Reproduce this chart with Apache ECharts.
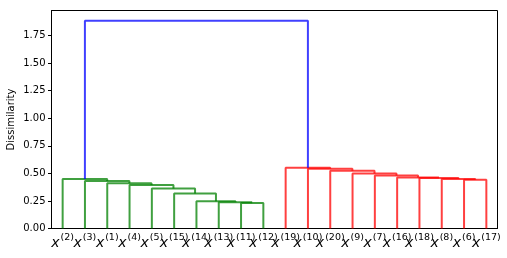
<!DOCTYPE html>
<html>
<head>
<meta charset="utf-8">
<script src="https://cdn.jsdelivr.net/npm/echarts@6/dist/echarts.min.js"></script>
<style>html,body{margin:0;padding:0;background:#fff}#c{width:507px;height:258px}</style>
</head>
<body>
<div id="c"></div>
<script>
// leaf labels in display order (superscript index of x)
const leafLabels = ['2','3','1','4','5','15','14','13','11','12','19','10','20','9','7','16','18','8','6','17'];
// linkage: leaves are 0..19 (display order), merge i creates cluster 20+i
const mergeLeft  = [8, 7, 6, 5, 4, 3, 2, 1, 0, 18, 17, 16, 15, 14, 13, 12, 11, 10, 28];
const mergeRight = [9, 20, 21, 22, 23, 24, 25, 26, 27, 19, 29, 30, 31, 32, 33, 34, 35, 36, 37];
const mergeHeight = [0.232, 0.238, 0.248, 0.318, 0.364, 0.394, 0.41, 0.43, 0.448,
                     0.442, 0.45, 0.458, 0.462, 0.48, 0.50, 0.525, 0.542, 0.551, 1.884];
const yTicks = [0, 0.25, 0.5, 0.75, 1.0, 1.25, 1.5, 1.75];
const clusterColors = ['#008000', '#ff0000'];
const aboveColor = '#0000ff';

const nLeaf = leafLabels.length;
const pos = [], hgt = [];
for (let i = 0; i < nLeaf; i++) { pos.push(5 + 10 * i); hgt.push(0); }
for (let i = 0; i < mergeHeight.length; i++) {
  const a = mergeLeft[i], b = mergeRight[i];
  pos.push((pos[a] + pos[b]) / 2);
  hgt.push(mergeHeight[i]);
}
const threshold = 0.7 * Math.max(...mergeHeight);
const linkColor = new Array(mergeHeight.length);
let colorIdx = 0;
function colorize(node, color) {
  if (node < nLeaf) return;
  const i = node - nLeaf;
  let c = color;
  if (mergeHeight[i] >= threshold) c = aboveColor;
  else if (!color) { c = clusterColors[colorIdx++ % clusterColors.length]; }
  linkColor[i] = c;
  const pass = (c === aboveColor) ? null : c;
  colorize(mergeLeft[i], pass);
  colorize(mergeRight[i], pass);
}
colorize(nLeaf + mergeHeight.length - 1, null);

const series = [];
for (let i = 0; i < mergeHeight.length; i++) {
  const a = mergeLeft[i], b = mergeRight[i];
  series.push({
    type: 'line', xAxisIndex: 0, yAxisIndex: 0,
    data: [[pos[a], hgt[a]], [pos[a], mergeHeight[i]], [pos[b], mergeHeight[i]], [pos[b], hgt[b]]],
    showSymbol: false, symbol: 'none', silent: true,
    lineStyle: { color: linkColor[i], width: 2, opacity: 0.75 }
  });
}

const chart = echarts.init(document.getElementById('c'), null, { renderer: 'canvas' });
chart.setOption({
  animation: false,
  backgroundColor: '#fff',
  grid: { left: 51.5, right: 9.5, top: 10.5, bottom: 29.5, show: true, borderColor: '#000', borderWidth: 1,
          backgroundColor: 'transparent', containLabel: false, outerBoundsMode: 'none' },
  xAxis: [
    { type: 'value', min: 0, max: 10 * nLeaf, axisLine: { show: true, lineStyle: { color: '#000' } },
      axisTick: { show: false }, axisLabel: { show: false }, splitLine: { show: false } },
    { type: 'category', data: leafLabels, boundaryGap: true, position: 'bottom',
      axisLine: { show: false }, axisTick: { show: false }, splitLine: { show: false },
      axisLabel: { interval: 0, margin: 4, color: '#000',
        formatter: v => '{x|x}{s|(' + v + ')}',
        rich: {
          x: { fontFamily: 'DejaVu Sans', fontStyle: 'italic', fontSize: 14, color: '#000', lineHeight: 17.5, verticalAlign: 'bottom' },
          s: { fontFamily: 'DejaVu Sans', fontSize: 9.5, color: '#000', lineHeight: 11, verticalAlign: 'top', padding: [0,0,0,1] }
        } } }
  ],
  yAxis: {
    type: 'value', min: 0, max: 1.978,
    name: 'Dissimilarity', nameLocation: 'middle', nameGap: 35, nameMoveOverlap: false,
    nameTextStyle: { fontFamily: 'DejaVu Sans', fontSize: 10, color: '#000' },
    axisLine: { show: true, lineStyle: { color: '#000' } },
    axisTick: { show: true, length: 3.5, lineStyle: { color: '#000' }, customValues: yTicks },
    axisLabel: { customValues: yTicks, margin: 6, fontFamily: 'DejaVu Sans', fontSize: 10, color: '#000',
      formatter: v => v.toFixed(2) },
    splitLine: { show: false }
  },
  series: series
});
</script>
</body>
</html>
